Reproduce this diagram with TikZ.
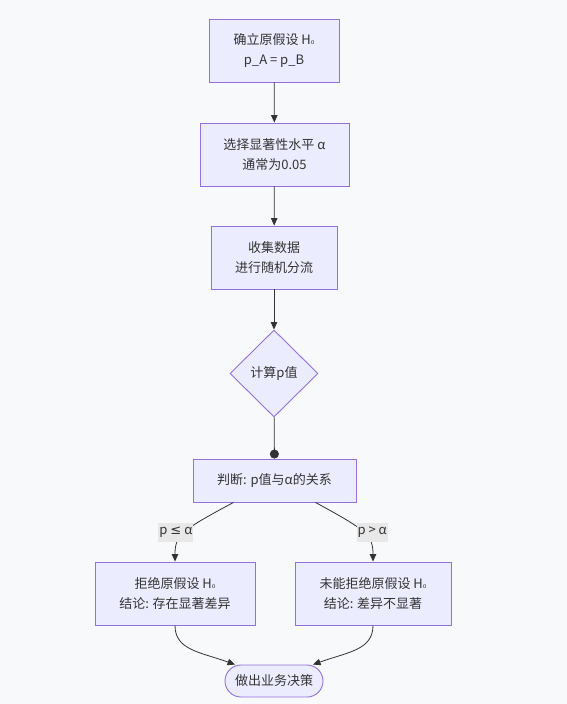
\documentclass[tikz,border=0pt]{standalone}
\usepackage{fontspec}
\setmainfont{Noto Sans CJK SC}
\newfontfamily\symfont{DejaVu Sans}
\usepackage{tikz}
\usetikzlibrary{arrows.meta,shapes.geometric}
\definecolor{bgpaper}{HTML}{F8F9FB}
\definecolor{boxfill}{HTML}{ECECFF}
\definecolor{boxline}{HTML}{9370DB}
\definecolor{inktext}{HTML}{333333}
\definecolor{labelbg}{HTML}{E8E8E8}
\tikzset{
  stepnode/.style={rectangle,draw=boxline,fill=boxfill,line width=0.9pt,text=inktext,
    align=center,inner sep=0pt,font=\fontsize{13}{20}\selectfont},
  decnode/.style={stepnode,diamond,minimum width=88pt,minimum height=87pt},
  endnode/.style={stepnode,rounded corners=16pt,minimum width=98pt,minimum height=32pt},
  edgelab/.style={fill=labelbg,text=inktext,inner xsep=1pt,inner ysep=1pt,
    minimum height=19pt,font=\fontsize{13}{15}\selectfont},
  flowedge/.style={-{Triangle[length=7.5pt,width=6.5pt]},line width=0.8pt,inktext},
  dotedge/.style={-{Circle[length=9pt]},line width=0.8pt,inktext},
}
\newcommand{\subzero}{{\symfont\fontsize{9}{9}\selectfont ₀}}

\begin{document}
\begin{tikzpicture}[x=1pt,y=-1pt]
  \fill[bgpaper] (0,0) rectangle (567,704);
  \node[stepnode,minimum width=130pt,minimum height=63pt] (nHyp) at (274,50.5) {确立原假设 H\subzero\\p\_A = p\_B};
  \node[stepnode,minimum width=149pt,minimum height=63pt] (nAlpha) at (274.5,154.5) {选择显著性水平 α\\通常为0.05};
  \node[stepnode,minimum width=126pt,minimum height=63pt] (nData) at (274,257.5) {收集数据\\进行随机分流};
  \node[decnode] (nCalc) at (274,373.5) {计算p值};
  \node[stepnode,minimum width=163pt,minimum height=43pt] (nJudge) at (274.5,480.5) {判断: p值与α的关系};
  \node[stepnode,minimum width=160pt,minimum height=63pt] (nReject) at (175,593.5) {拒绝原假设 H\subzero\\结论: 存在显著差异};
  \node[stepnode,minimum width=156pt,minimum height=63pt] (nKeep) at (373,593.5) {未能拒绝原假设 H\subzero\\结论: 差异不显著};
  \node[endnode] (nDecide) at (274,681) {做出业务决策};
  \draw[flowedge] (nHyp) -- (nAlpha);
  \draw[flowedge] (nAlpha) -- (nData);
  \draw[flowedge] (nData) -- (nCalc);
  \draw[dotedge] (nCalc) -- (nJudge);
  \draw[flowedge] ([xshift=-41pt]nJudge.south) .. controls (182,530) and (175,535) .. (nReject.north)
    node[edgelab,pos=0.5,xshift=-9pt] {p {\symfont ≤} α};
  \draw[flowedge] ([xshift=41pt]nJudge.south) .. controls (366,530) and (373,535) .. (nKeep.north)
    node[edgelab,pos=0.5,xshift=9pt] {p > α};
  \draw[flowedge] (nReject.south) .. controls (175,650) and (200,652) .. ([xshift=-39pt]nDecide.north);
  \draw[flowedge] (nKeep.south) .. controls (373,650) and (348,652) .. ([xshift=39pt]nDecide.north);
\end{tikzpicture}
\end{document}
